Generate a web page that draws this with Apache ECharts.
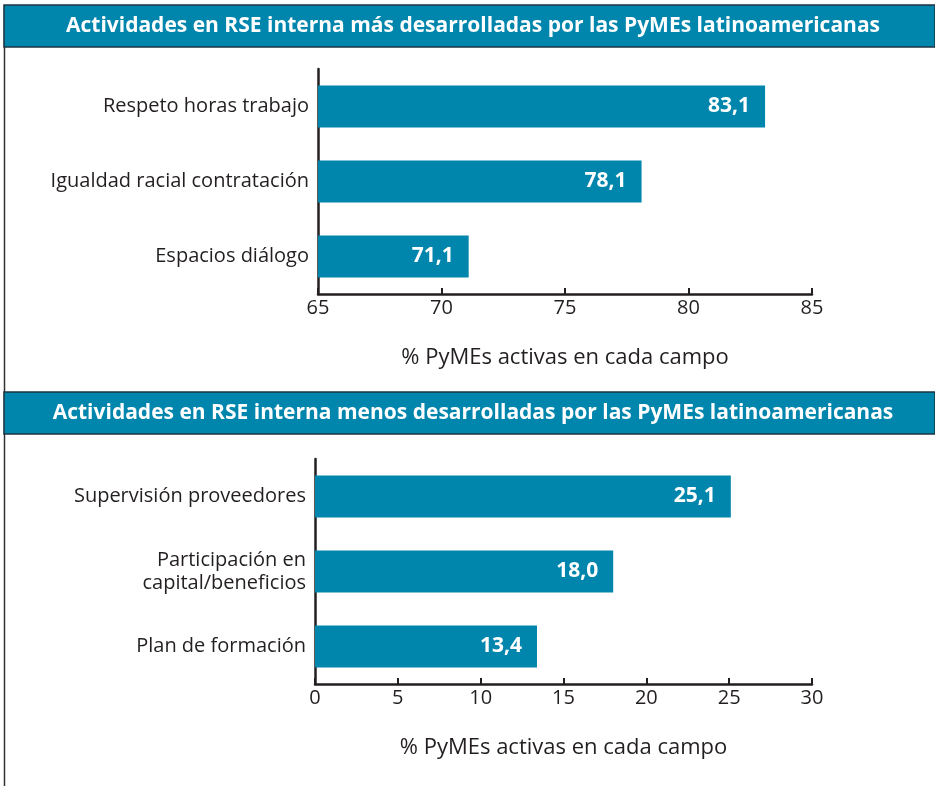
<!DOCTYPE html>
<html><head><meta charset="utf-8">
<script src="https://cdn.jsdelivr.net/npm/echarts@6/dist/echarts.min.js"></script>
<style>html,body{margin:0;padding:0;background:#fff}#c{width:935px;height:786px}</style>
</head><body><div id="c"></div>
<script>
const titleTop = 'Actividades en RSE interna más desarrolladas por las PyMEs latinoamericanas';
const titleBottom = 'Actividades en RSE interna menos desarrolladas por las PyMEs latinoamericanas';
const axisTitle = '% PyMEs activas en cada campo';
const catsTop = ['Respeto horas trabajo', 'Igualdad racial contratación', 'Espacios diálogo'];
const valsTop = [83.1, 78.1, 71.1];
const catsBottom = ['Supervisión proveedores', 'Participación en\ncapital/beneficios', 'Plan de formación'];
const valsBottom = [25.1, 18.0, 13.4];
const ticksTop = [65, 70, 75, 80, 85];
const ticksBottom = [0, 5, 10, 15, 20, 25, 30];

const FONT = 'Open Sans';
const BLUE = '#0086ad';
const INK = '#231f20';
const chart = echarts.init(document.getElementById('c'), null, {renderer: 'canvas'});
const fmt = v => v.toFixed(1).replace('.', ',');

function xAxis(gi, ticks) {
  return {
    type: 'value', gridIndex: gi,
    min: ticks[0], max: ticks[ticks.length - 1], interval: ticks[1] - ticks[0],
    axisLine: {show: true, lineStyle: {color: INK, width: 2.5}},
    axisTick: {show: true, inside: true, length: 6, lineStyle: {color: INK, width: 2}},
    splitLine: {show: false},
    axisLabel: {color: INK, fontFamily: FONT, fontSize: 20, margin: 4},
    name: axisTitle, nameLocation: 'middle', nameGap: 53,
    nameTextStyle: {color: INK, fontFamily: FONT, fontSize: 22}
  };
}
function yAxis(gi, cats) {
  return {
    type: 'category', gridIndex: gi, data: cats, inverse: true,
    axisLine: {show: true, lineStyle: {color: INK, width: 2.5}},
    axisTick: {show: false},
    axisLabel: {color: INK, fontFamily: FONT, fontSize: 20, margin: 9, lineHeight: 23, align: 'right'}
  };
}
function series(gi, vals) {
  return {
    type: 'bar', xAxisIndex: gi, yAxisIndex: gi, data: vals, barWidth: 42,
    itemStyle: {color: BLUE},
    label: {show: true, position: 'insideRight', distance: 15, color: '#fff',
      fontFamily: FONT, fontWeight: 'bold', fontSize: 21, formatter: p => fmt(p.value)}
  };
}
function header(y, text) {
  return [
    {type: 'rect', shape: {x: 4, y: y, width: 931, height: 42}, style: {fill: BLUE, stroke: '#1d3440', lineWidth: 1.5}},
    {type: 'text', x: 473, y: y + 21, style: {text: text, fill: '#fff', font: 'bold 21px ' + FONT, textAlign: 'center', textVerticalAlign: 'middle'}}
  ];
}
chart.setOption({
  animation: false,
  grid: [
    {left: 318, right: 123, top: 69, height: 225},
    {left: 315, right: 123, top: 459, height: 225}
  ],
  xAxis: [xAxis(0, ticksTop), xAxis(1, ticksBottom)],
  yAxis: [yAxis(0, catsTop), yAxis(1, catsBottom)],
  series: [series(0, valsTop), series(1, valsBottom)],
  graphic: [
    {type: 'line', shape: {x1: 4.5, y1: 5, x2: 4.5, y2: 786}, style: {stroke: '#333', lineWidth: 1.5}},
    ...header(5, titleTop),
    ...header(392, titleBottom)
  ]
});
</script></body></html>
